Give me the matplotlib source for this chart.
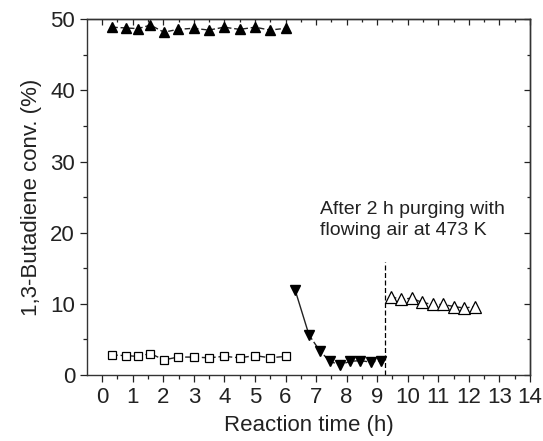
import numpy as np
import matplotlib.pyplot as plt

plt.rcParams['font.family'] = ['Liberation Sans', 'DejaVu Sans']

# fresh catalyst, two series
t1 = [0.33, 0.77, 1.17, 1.58, 2.02, 2.48, 2.99, 3.49, 3.99, 4.50, 5.01, 5.49, 6.01]
conv_up = [48.9, 48.8, 48.7, 49.2, 48.2, 48.6, 48.75, 48.5, 48.9, 48.6, 48.9, 48.5, 48.75]
conv_sq = [2.8, 2.7, 2.6, 3.0, 2.1, 2.5, 2.5, 2.4, 2.6, 2.4, 2.7, 2.4, 2.6]

# deactivation run
t2 = [6.31, 6.77, 7.12, 7.45, 7.78, 8.11, 8.44, 8.79, 9.11]
conv_down = [12.0, 5.6, 3.4, 1.9, 1.4, 1.9, 2.0, 1.8, 2.0]

# after purging with air
t3 = [9.45, 9.78, 10.13, 10.46, 10.82, 11.17, 11.52, 11.85, 12.2]
conv_open = [11.0, 10.6, 10.8, 10.2, 9.9, 9.9, 9.6, 9.4, 9.6]

purge_t = 9.26
purge_top = 15.9

fig = plt.figure(figsize=(5.43, 4.41), dpi=100)
ax = fig.add_axes([0.160, 0.150, 0.816, 0.806])

ls = dict(color='#222222', lw=1.0, dashes=(4, 2))
ax.plot(t1, conv_up, marker='^', ms=7.5, mfc='black', mec='black', **ls)
ax.plot(t1, conv_sq, marker='s', ms=6, mfc='white', mec='black', mew=0.9, **ls)
ax.plot(t2[:2], conv_down[:2], color='#222222', lw=1.0)
ax.plot(t2[1:], conv_down[1:], color='#222222', lw=1.0, dashes=(4, 2))
ax.plot(t2, conv_down, ls='none', marker='v', ms=7.5, mfc='black', mec='black')
ax.plot(t3, conv_open, marker='^', ms=8, mfc='white', mec='black', mew=0.9, **ls)

ax.plot([purge_t, purge_t], [0, purge_top], color='black', lw=0.9, dashes=(4, 2))
ax.text(7.12, 21.8, 'After 2 h purging with\nflowing air at 473 K',
        fontsize=14, color='#222222', va='center', linespacing=1.25)

ax.set_xlim(-0.5, 14)
ax.set_ylim(0, 50)
xmaj = np.arange(0, 15, 1)
xmin = np.arange(0.5, 14, 1)
ymaj = np.arange(0, 51, 10)
ymin = np.arange(5, 50, 10)
ax.set_xticks(xmaj)
ax.set_xticks(xmin, minor=True)
ax.set_yticks(ymaj)
ax.set_yticks(ymin, minor=True)
ax.tick_params(which='both', direction='out', labelsize=16, colors='#222222')
ax.tick_params(which='major', length=5, width=0.9)
ax.tick_params(which='minor', length=3, width=0.9)

# inward ticks on top and right
top = ax.secondary_xaxis('top')
top.set_xticks(xmaj)
top.set_xticks(xmin, minor=True)
top.tick_params(which='both', direction='in', labeltop=False, colors='#222222')
top.tick_params(which='major', length=4, width=0.9)
top.tick_params(which='minor', length=2.5, width=0.9)
right = ax.secondary_yaxis('right')
right.set_yticks(ymaj)
right.set_yticks(ymin, minor=True)
right.tick_params(which='both', direction='in', labelright=False, colors='#222222')
right.tick_params(which='major', length=4, width=0.9)
right.tick_params(which='minor', length=2.5, width=0.9)
for a in (ax, top, right):
    for s in a.spines.values():
        s.set_linewidth(1.0)
        s.set_color('#333333')

ax.set_xlabel('Reaction time (h)', fontsize=16, color='#222222', labelpad=5)
ax.set_ylabel('1,3-Butadiene conv. (%)', fontsize=16, color='#222222', labelpad=6)

fig.savefig('out.png', dpi=100)
